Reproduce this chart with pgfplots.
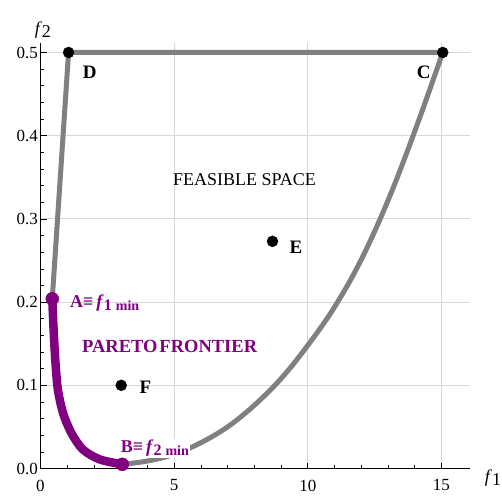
\documentclass[border=0pt]{standalone}
\usepackage{pgfplots}
\pgfplotsset{compat=1.18}
\usepackage{fontspec}
\setmainfont{Liberation Serif}
\definecolor{lgray}{RGB}{128,128,128}
\definecolor{mpurple}{RGB}{128,0,128}
\definecolor{gridc}{RGB}{215,215,215}
\begin{document}
\begin{tikzpicture}
\begin{axis}[
  at={(0,0)}, anchor=origin,
  scale only axis, width=429.5pt, height=425.5pt,
  xmin=0, xmax=16.07, ymin=0, ymax=0.5114,
  axis lines=left, axis line style={-, line width=1pt, black},
  tick align=inside,
  major tick length=6pt, minor tick length=3.5pt,
  tick style={black, line width=0.6pt},
  xtick={0,5,10,15}, ytick={0,0.1,0.2,0.3,0.4,0.5},
  minor x tick num=4, minor y tick num=4,
  grid=major, grid style={line width=0.8pt, gridc},
  /pgf/number format/assume math mode=true,
  yticklabel style={/pgf/number format/fixed, /pgf/number format/fixed zerofill, /pgf/number format/precision=1},
  ticklabel style={font=\fontsize{17}{17}\selectfont},
  yticklabel style={inner sep=0pt, xshift=-2.5pt},
  xticklabel style={inner sep=0pt, yshift=-11pt},
  clip=false,
]
% feasible space boundary
\addplot[lgray, line width=5pt, line join=round] coordinates {(0.44,0.204) (1.05,0.5) (15.05,0.5)};
\addplot[lgray, line width=5pt, smooth, tension=0.6] coordinates {
(3.06,0.005) (4.0,0.009) (5.0,0.017) (6.0,0.031) (7.0,0.050) (8.0,0.076) (9.0,0.108)
(10.0,0.148) (11.0,0.194) (12.0,0.251) (13.0,0.322) (14.0,0.405) (15.05,0.5)};
% label B (white background covers grey curve)
\node[anchor=base west, inner sep=1pt, fill=white, text=mpurple, font=\fontsize{18}{18}\selectfont\bfseries]
  at (axis cs:2.96,0.019) {B≡\,\textit{f}\raisebox{-3pt}{\fontsize{16}{16}\selectfont 2\kern4pt\fontsize{14}{14}\selectfont min}};
% Pareto frontier
\addplot[mpurple, line width=8.5pt, smooth, tension=0.5, line cap=round] coordinates {
(0.44,0.204) (0.49,0.167) (0.56,0.127) (0.65,0.095) (0.84,0.067) (1.15,0.043) (1.58,0.023) (2.21,0.011) (3.06,0.005)};
\addplot[only marks, mark=*, mark size=6.5pt, mpurple] coordinates {(0.44,0.204) (3.06,0.005)};
\addplot[only marks, mark=*, mark size=5.5pt, black] coordinates {(1.05,0.5) (15.05,0.5) (8.68,0.273) (3.02,0.1)};
% labels
\node[anchor=base west, inner sep=0pt, font=\fontsize{19}{19}\selectfont\bfseries] at (axis cs:1.58,0.469) {D};
\node[anchor=base west, inner sep=0pt, font=\fontsize{19}{19}\selectfont\bfseries] at (axis cs:14.07,0.469) {C};
\node[anchor=base west, inner sep=0pt, font=\fontsize{19}{19}\selectfont\bfseries] at (axis cs:9.31,0.2587) {E};
\node[anchor=base west, inner sep=0pt, font=\fontsize{19}{19}\selectfont\bfseries] at (axis cs:3.70,0.0904) {F};
\node[anchor=base west, inner sep=0pt, font=\fontsize{18}{18}\selectfont] at (axis cs:4.95,0.3407) {FEASIBLE SPACE};
\node[anchor=base west, inner sep=0pt, text=mpurple, font=\fontsize{18.5}{18.5}\selectfont\bfseries] at (axis cs:1.55,0.140) {PARETO\kern2pt FRONTIER};
\node[anchor=base west, inner sep=0pt, text=mpurple, font=\fontsize{18}{18}\selectfont\bfseries]
  at (axis cs:1.10,0.194) {A≡\,\textit{f}\raisebox{-3pt}{\fontsize{16}{16}\selectfont 1\kern4pt\fontsize{14}{14}\selectfont min}};
% axis labels
\node[font=\fontsize{18}{18}\selectfont] at (axis cs:0.09,0.527) {\textit{f}\raisebox{-3pt}{2}};
\node[font=\fontsize{18}{18}\selectfont] at (axis cs:16.93,-0.012) {\textit{f}\raisebox{-3pt}{1}};
\end{axis}
\pgfresetboundingbox
\path (-40.5pt,-26.5pt) rectangle (461.5pt,468.5pt);
\end{tikzpicture}
\end{document}
